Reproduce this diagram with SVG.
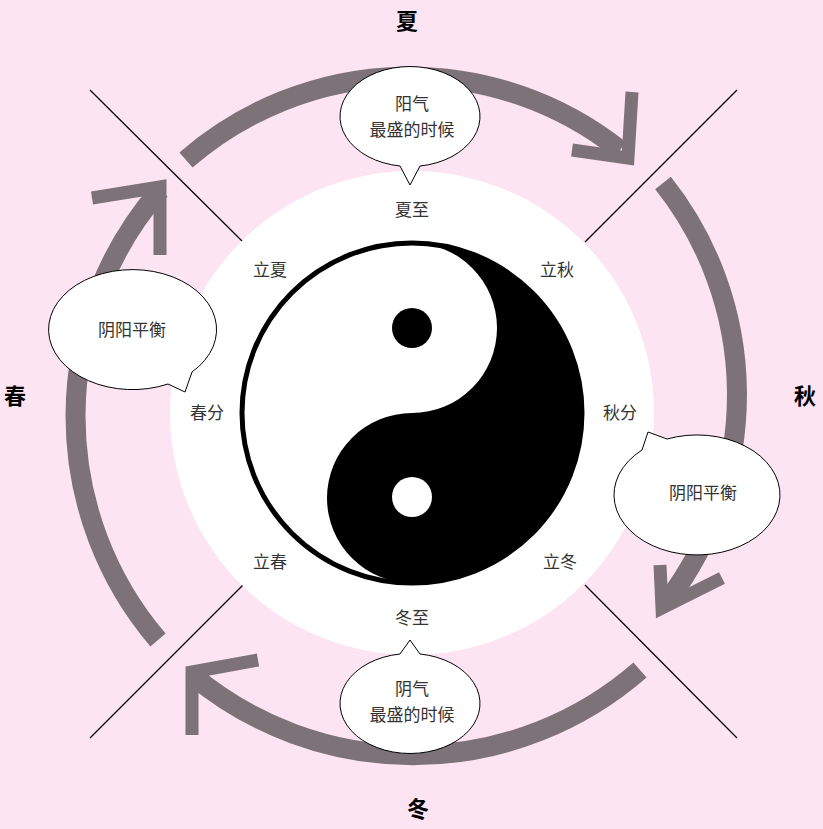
<svg xmlns="http://www.w3.org/2000/svg" width="823" height="829" viewBox="0 0 823 829">
<style>
.arc{fill:none;stroke:#7d7278;stroke-width:20}
.head{fill:none;stroke:#7d7278;stroke-width:13;stroke-linejoin:miter;stroke-linecap:butt}
.ln{stroke:#000;stroke-width:1.2}
.bub{fill:#fff;stroke:#000;stroke-width:1}
.t{font-family:"Noto Sans CJK SC",sans-serif;font-size:17px;fill:#333;text-anchor:middle}
.s{font-family:"Noto Sans CJK SC",sans-serif;font-size:22px;fill:#000;text-anchor:middle;font-weight:bold}
</style>
<rect width="823" height="829" fill="#fce4f2"/>
<g id="connectors">
<line class="ln" x1="90" y1="90" x2="243" y2="242"/>
<line class="ln" x1="737" y1="90" x2="585" y2="242"/>
<line class="ln" x1="90" y1="738" x2="243" y2="585"/>
<line class="ln" x1="737" y1="738" x2="585" y2="585"/>
<path class="arc" d="M186,160 A340,340 0 0 1 620,150"/>
<polyline class="head" points="632,92 628,158 572,150"/>
<path class="arc" d="M663,183 A340,340 0 0 1 668,600"/>
<polyline class="head" points="660,565 662,608 722,578"/>
<path class="arc" d="M640,670 A345,345 0 0 1 192,675"/>
<polyline class="head" points="258,660 192,672 192,735"/>
<path class="arc" d="M158,640 A345,345 0 0 1 160,190"/>
<polyline class="head" points="92,198 160,187 160,255"/>
</g>
<g id="wheel">
<circle cx="412" cy="413" r="242" fill="#fff"/>
<circle cx="412" cy="413" r="170" fill="#fff" stroke="#000" stroke-width="5"/>
<path d="M412,243 A170,170 0 0 1 412,583 A85,85 0 0 1 412,413 A85,85 0 0 0 412,243 Z" fill="#000"/>
<circle cx="412" cy="328" r="20" fill="#000"/>
<circle cx="412" cy="497" r="20" fill="#fff"/>
</g>
<g id="labels">
<text class="t" x="412" y="216">夏至</text>
<text class="t" x="557" y="276">立秋</text>
<text class="t" x="620" y="419">秋分</text>
<text class="t" x="560" y="568">立冬</text>
<text class="t" x="412" y="624">冬至</text>
<text class="t" x="270" y="568">立春</text>
<text class="t" x="207" y="419">春分</text>
<text class="t" x="270" y="276">立夏</text>
<text class="s" x="407" y="29">夏</text>
<text class="s" x="805" y="404">秋</text>
<text class="s" x="418" y="817">冬</text>
<text class="s" x="15" y="404">春</text>
</g>
<g id="bubble-top">
<path class="bub" d="M400,166 A70,50 0 1 1 420,166 L410,185 Z"/>
<text class="t" x="412" y="110">阳气</text>
<text class="t" x="412" y="136">最盛的时候</text>
</g>
<g id="bubble-left">
<path class="bub" d="M168,384 A84,60 0 1 1 192,372 L185,392 Z"/>
<text class="t" x="132" y="336">阴阳平衡</text>
</g>
<g id="bubble-right">
<path class="bub" d="M667,439 A83,60 0 1 1 642,450 L648,432 Z"/>
<text class="t" x="703" y="499">阴阳平衡</text>
</g>
<g id="bubble-bottom">
<path class="bub" d="M400,654 A70,50 0 1 0 420,654 L410,640 Z"/>
<text class="t" x="412" y="695">阴气</text>
<text class="t" x="412" y="721">最盛的时候</text>
</g>
</svg>
